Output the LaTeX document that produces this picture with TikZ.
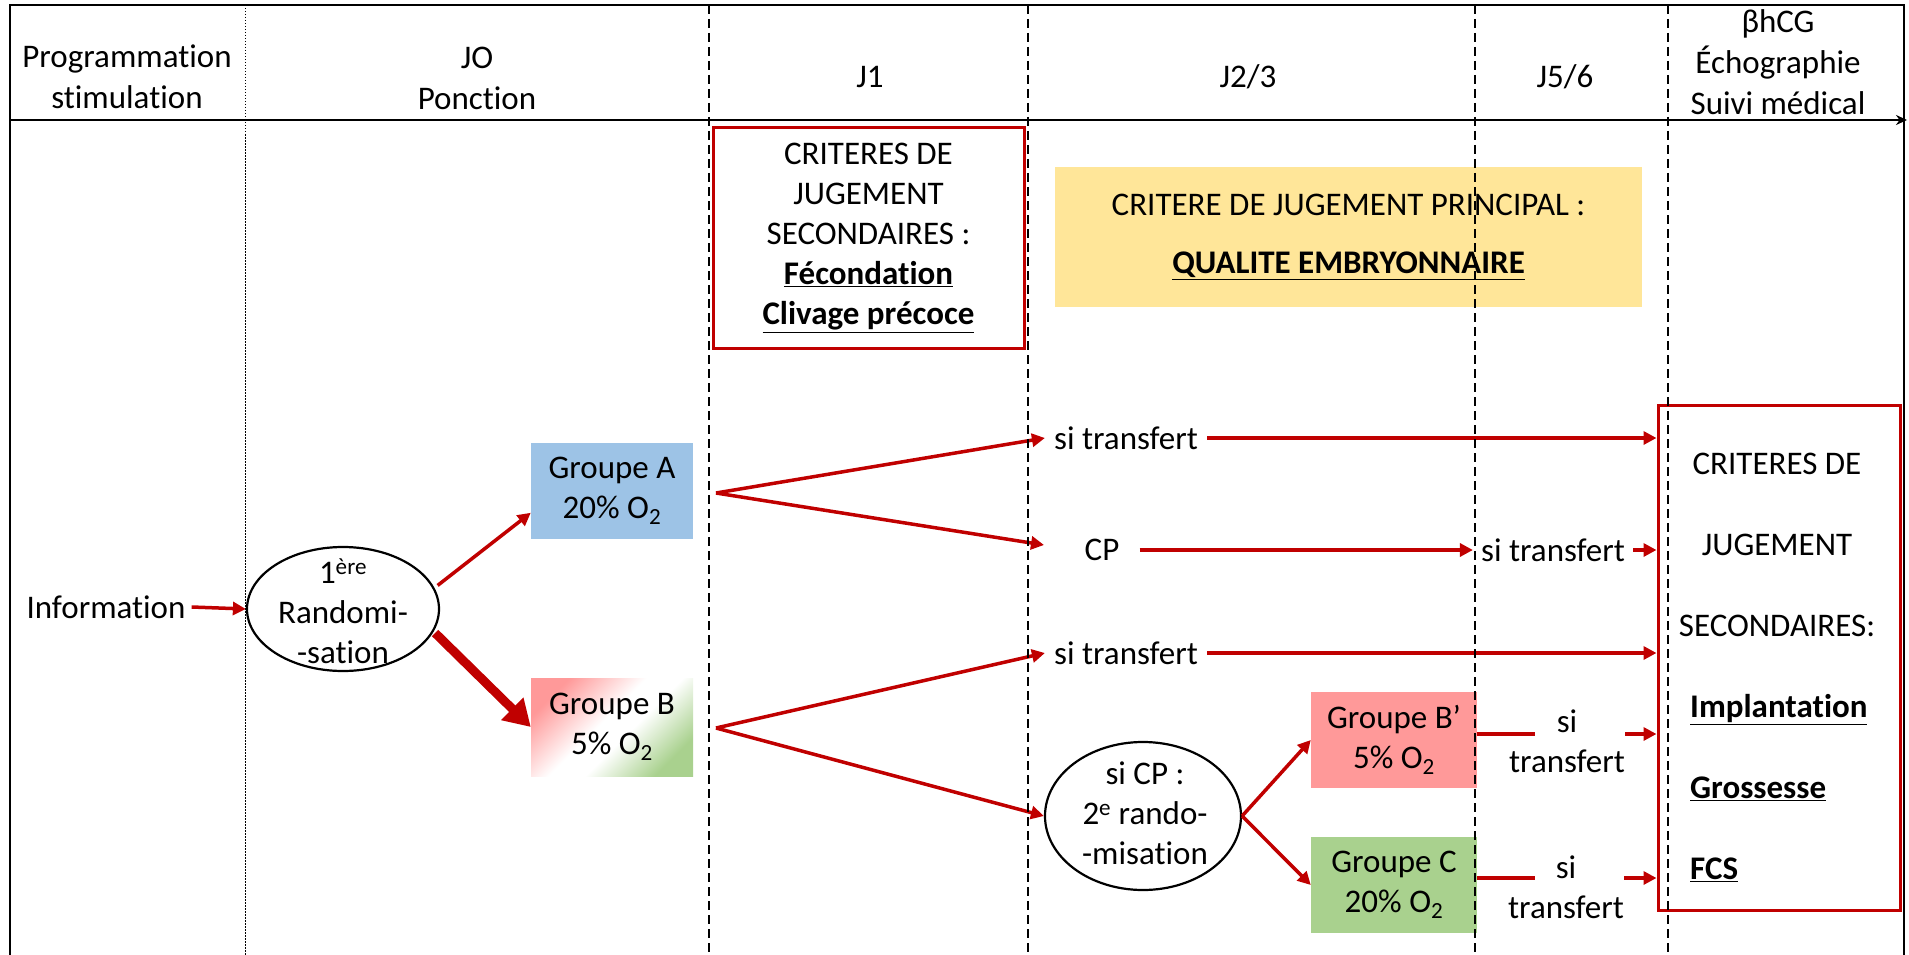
\documentclass[tikz,border=0pt]{standalone}
\usepackage{fontspec}
\setmainfont{Carlito}[Ligatures={NoCommon}]
\usetikzlibrary{arrows.meta,shapes.geometric,calc}
\definecolor{redc}{HTML}{C00000}
\definecolor{bluec}{HTML}{9DC3E6}
\definecolor{pinkc}{HTML}{FF9999}
\definecolor{greenc}{HTML}{A9D18E}
\definecolor{yellowc}{HTML}{FFE699}
\pgfdeclarehorizontalshading{gbshade}{100bp}{color(0bp)=(pinkc); color(25bp)=(pinkc); color(46bp)=(white); color(56bp)=(white); color(75bp)=(greenc); color(100bp)=(greenc)}
\newcommand\bodyfs{\fontsize{33}{40}\selectfont}
\begin{document}
\begin{tikzpicture}[x=1pt,y=-1pt,
  txt/.style={font=\bodyfs, align=center, inner sep=0pt},
  grp/.style={txt, minimum width=162pt, minimum height=96pt},
  redarrow/.style={draw=redc, line width=3.5pt, -{Triangle[length=13pt,width=13pt]}},
  redline/.style={draw=redc, line width=3.5pt},
  thickarrow/.style={draw=redc, line width=9pt, -{Triangle[length=26pt,width=30pt]}},
  sepdash/.style={black, line width=1.3pt, dash pattern=on 9pt off 5pt},
  sepdot/.style={black, line width=1pt, dash pattern=on 1.5pt off 1.5pt},
  critbox/.style={draw=redc, line width=3pt},
  oval/.style={ellipse, draw=black, line width=2.2pt, fill=white, inner sep=0pt}
]
\useasboundingbox (0,0) rectangle (1909,955);
% background boxes
\node[txt, fill=yellowc, minimum width=587pt, minimum height=140pt, font={\fontsize{33}{58}\selectfont}] (prim) at (1348.5,237)
  {CRITERE DE JUGEMENT PRINCIPAL :\\\textbf{\underline{QUALITE EMBRYONNAIRE}}};
\node[txt, critbox, minimum width=311pt, minimum height=220pt] (crit1) at (868.5,238)
  {CRITERES DE\\JUGEMENT\\SECONDAIRES :\\\textbf{\underline{Fécondation}}\\\textbf{\underline{Clivage précoce}}};
\node[critbox, minimum width=242pt, minimum height=505pt, inner sep=0pt] (crit2) at (1779,657.5) {};
\node[txt, font={\fontsize{33}{81}\selectfont}] (crit2a) at (1777,545) {CRITERES DE\\JUGEMENT\\SECONDAIRES:};
\node[txt, align=left, anchor=west, font={\fontsize{33}{81}\selectfont}] (crit2b) at (1690,788)
  {\textbf{\underline{Implantation}}\\\textbf{\underline{Grossesse}}\\\textbf{\underline{FCS}}};

% groups
\node[grp, fill=bluec] (gA) at (612,491) {Groupe A\\20\% O\textsubscript{2}};
\node[grp, shading=gbshade, shading angle=-45, minimum height=98pt] (gB) at (612,727) {Groupe B\\5\% O\textsubscript{2}};
\node[grp, fill=pinkc, minimum width=166pt] (gBp) at (1394,740) {Groupe B’\\5\% O\textsubscript{2}};
\node[grp, fill=greenc, minimum width=166pt] (gC) at (1394,885) {Groupe C\\20\% O\textsubscript{2}};

% ellipses
\node[oval, minimum width=192pt, minimum height=124pt] (ell1) at (343,609) {};
\node[txt] (ell1t) at (343,611) {1\textsuperscript{ère}\\Randomi-\\-sation};
\node[oval, minimum width=196pt, minimum height=148pt] (ell2) at (1143,816) {};
\node[txt] (ell2t) at (1145,813) {si CP :\\2\textsuperscript{e} rando-\\-misation};

% texts
\node[txt, inner xsep=6pt] (info) at (106,607) {Information};
\node[txt, inner xsep=9pt] (st1) at (1126,438) {si transfert};
\node[txt, inner xsep=20pt] (cp) at (1102,550) {CP};
\node[txt, inner xsep=8pt] (st2) at (1553,550) {si transfert};
\node[txt, inner xsep=9pt] (st3) at (1126,653) {si transfert};
\node[txt] (st4) at (1567,741) {si\\transfert};
\node[txt] (st5) at (1566,887) {si\\transfert};

% header
\node[txt, font={\fontsize{33}{41}\selectfont}] (h1) at (127,77) {Programmation\\stimulation};
\node[txt, font={\fontsize{33}{41}\selectfont}] (h2) at (477,78) {JO\\Ponction};
\node[txt] (h3) at (870,77) {J1};
\node[txt] (h4) at (1248,77) {J2/3};
\node[txt] (h5) at (1565,77) {J5/6};
\node[txt, font={\fontsize{33}{41}\selectfont}] (h6) at (1778,62) {βhCG\\Échographie\\Suivi médical};

% coordinates
\coordinate (fA) at (716,493);
\coordinate (fB) at (716,728);
\coordinate (cpin) at (1044,545);

% connectors
\draw[redarrow] (info.east) -- (ell1.west);
\draw[redarrow, shorten <=4pt] (ell1.13) -- (gA.195);
\draw[thickarrow, shorten <=2pt] (ell1.-14) -- (gB.west);
\draw[redarrow] (fA) -- (st1.west);
\draw[redarrow] (fA) -- (cpin);
\draw[redarrow] (fB) -- (st3.west);
\draw[redarrow] (fB) -- (ell2.west);
\draw[redarrow] (st1.east) -- (st1.east -| crit2.west);
\draw[redarrow] (cp.east) -- (st2.west);
\draw[redarrow] (st2.east) -- (st2.east -| crit2.west);
\draw[redarrow] (st3.east) -- (st3.east -| crit2.west);
\draw[redarrow] (ell2.east) -- (gBp.west);
\draw[redarrow] (ell2.east) -- (gC.west);
\draw[redline] ([yshift=6pt]gBp.east) -- ++(58,0);
\draw[redarrow] ([yshift=6pt]gBp.east -| st4.east) -- ([yshift=6pt]gBp.east -| crit2.west);
\draw[redline] ([yshift=7pt]gC.east) -- ++(58,0);
\draw[redarrow] ([yshift=7pt]gC.east -| st5.east) -- ([yshift=7pt]gC.east -| crit2.west);

% frame and separators
\draw[sepdot] (245,5) -- (245,955);
\foreach \xx in {709,1028,1475,1668} \draw[sepdash] (\xx,5) -- (\xx,955);
\draw[line width=2pt] (10,955) -- (10,5) -- (1904,5) -- (1904,955);
\draw[line width=1.8pt, -{Stealth[length=11pt,width=10pt]}] (10,120) -- (1907,120);
\end{tikzpicture}
\end{document}
